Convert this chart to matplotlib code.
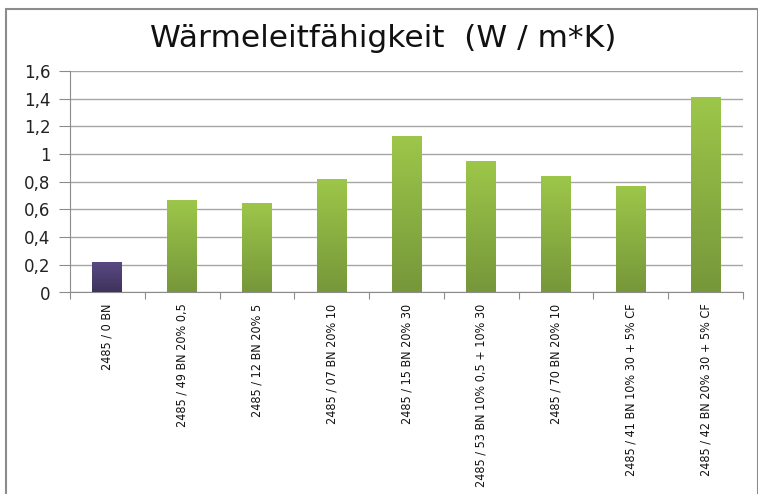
import matplotlib.pyplot as plt
import numpy as np
from matplotlib.colors import LinearSegmentedColormap

## thermal conductivity per sample
samples = ['2485 / 0 BN', '2485 / 49 BN 20% 0,5', '2485 / 12 BN 20% 5',
           '2485 / 07 BN 20% 10', '2485 / 15 BN 20% 30',
           '2485 / 53 BN 10% 0,5 + 10% 30', '2485 / 70 BN 20% 10',
           '2485 / 41 BN 10% 30 + 5% CF', '2485 / 42 BN 20% 30 + 5% CF']
values = [0.22, 0.67, 0.65, 0.82, 1.13, 0.95, 0.84, 0.77, 1.41]
y_ticks = [0, 0.2, 0.4, 0.6, 0.8, 1.0, 1.2, 1.4, 1.6]
y_labels = ['0', '0,2', '0,4', '0,6', '0,8', '1', '1,2', '1,4', '1,6']

fig = plt.figure(figsize=(7.58, 4.94), dpi=100)
ax = fig.add_axes([70/758, 1 - 292.5/494, 673/758, 221.5/494])

x = np.arange(len(samples))
bars = ax.bar(x, values, width=0.4, color='none', zorder=3)

## vertical gradient fill for each bar (first one is the reference, purple)
green = LinearSegmentedColormap.from_list('g', ['#76973a', '#9dc74a'])
purple = LinearSegmentedColormap.from_list('p', ['#3f325c', '#5a4a84'])
grad = np.linspace(0, 1, 256).reshape(-1, 1)
for i, b in enumerate(bars):
    cmap = purple if i == 0 else green
    x0, y0 = b.get_x(), b.get_y()
    im = ax.imshow(grad, cmap=cmap, origin='lower', aspect='auto', zorder=3,
                   extent=[x0, x0 + b.get_width(), y0, y0 + b.get_height()])
    im.set_clip_path(b)

ax.set_xlim(-0.5, len(samples) - 0.5)
ax.set_ylim(0, 1.6)

ax.set_yticks(y_ticks)
ax.set_yticklabels(y_labels, fontsize=12, color='#222222')
ax.yaxis.grid(True, color='#a6a6a6', linewidth=1.0, zorder=0)
ax.set_axisbelow(True)

## category separators as major ticks, names on minor ticks
ax.set_xticks(np.arange(-0.5, len(samples), 1.0))
ax.set_xticklabels([])
ax.set_xticks(x, minor=True)
ax.set_xticklabels(samples, minor=True, rotation=90, va='top', ha='center',
                   fontsize=9, family='DejaVu Sans', stretch='condensed',
                   color='#111111')
ax.tick_params(axis='x', which='minor', length=0, pad=8)
ax.tick_params(axis='x', which='major', length=5, color='#8c8c8c', direction='out')
ax.tick_params(axis='y', length=8, color='#8c8c8c', pad=6)

for side in ['top', 'right']:
    ax.spines[side].set_visible(False)
for side in ['left', 'bottom']:
    ax.spines[side].set_color('#8c8c8c')

fig.text(0.506, 1 - 47/494, 'Wärmeleitfähigkeit  (W / m*K)', ha='center',
         va='baseline', fontsize=22.5, color='#111111')

## outer chart frame
frame = plt.Rectangle((6/758, -0.1), 752/758, 1 - 9/494 + 0.1, transform=fig.transFigure,
                      fill=False, edgecolor='#8c8c8c', linewidth=1.5)
fig.patches.append(frame)

fig.savefig('out.png', dpi=100)
